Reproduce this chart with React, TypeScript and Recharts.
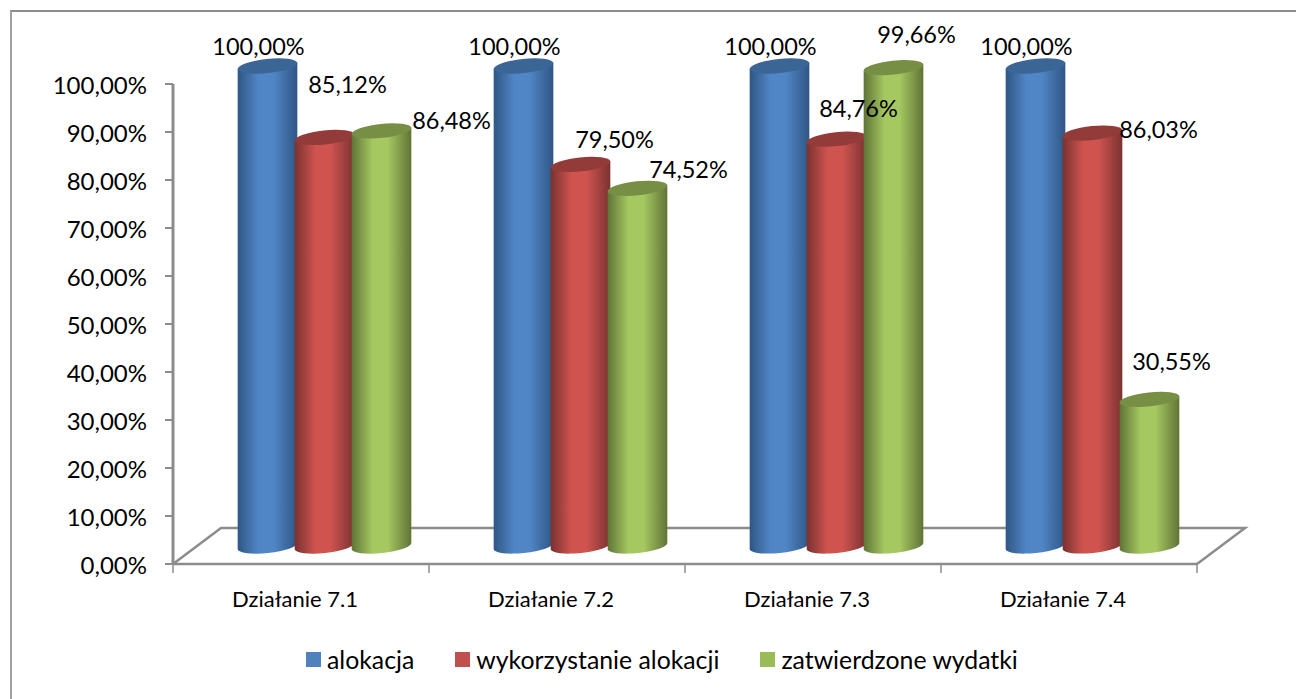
import { BarChart, Bar, XAxis, YAxis, Legend, LabelList, ReferenceLine } from "recharts"

const categories = ["Działanie 7.1", "Działanie 7.2", "Działanie 7.3", "Działanie 7.4"]
const alokacja = [100, 100, 100, 100]
const wykorzystanie = [85.12, 79.5, 84.76, 86.03]
const zatwierdzone = [86.48, 74.52, 99.66, 30.55]
const yTicks = [0, 10, 20, 30, 40, 50, 60, 70, 80, 90, 100]

const tableData = categories.map((name, i) => ({
  name,
  alokacja: alokacja[i],
  wykorzystanie: wykorzystanie[i],
  zatwierdzone: zatwierdzone[i],
}))

const FONT = "Lato, sans-serif"
const AXIS_GRAY = "#8c8c8c"
const DEPTH_X = 48
const DEPTH_Y = 36
const BAR_DX = 23
const BAR_DY = -18

// hand-placed labels in the original, dx/dy from the bar's top centre
const blueLabelShift = [[-9, -17], [-9, -17], [-9, -17], [-9, -17]]
const redLabelShift = [[23, -50], [34, -22], [22, -28], [66, -1]]
const greenLabelShift = [[70, -8], [51, -16], [23, -31], [22, -35]]

const pct = (v: number) => v.toFixed(2).replace(".", ",") + "%"

const Cylinder = (props: any) => {
  const { x, y, width, height, gradient, topFill } = props
  const cx = x + width / 2 + BAR_DX
  const rx = width / 2 + 1.5
  const ry = 7
  const tilt = -6
  const rad = (tilt * Math.PI) / 180
  const ax = rx * Math.cos(rad)
  const ay = rx * Math.sin(rad)
  const top = y + BAR_DY
  const bottom = y + height + BAR_DY
  const body = `M${cx - ax},${top - ay} L${cx - ax},${bottom - ay} A${rx},${ry} ${tilt} 0 0 ${cx + ax},${bottom + ay} L${cx + ax},${top + ay} Z`
  return (
    <g>
      <path d={body} fill={`url(#${gradient})`} />
      <ellipse cx={cx} cy={top} rx={rx} ry={ry} fill={topFill} transform={`rotate(${tilt} ${cx} ${top})`} />
    </g>
  )
}

// the floor plus the tick marks, which sit between the categories here
const Floor = (props: any) => {
  const { x1, y1, x2, y2 } = props
  const step = (x2 - x1) / categories.length
  const marks = [0, 1, 2, 3, 4].map((i) => x1 + step * i)
  return (
    <g fill="none" stroke={AXIS_GRAY}>
      <path
        d={`M${x1},${y1} L${x1 + DEPTH_X},${y1 - DEPTH_Y} L${x2 + DEPTH_X},${y2 - DEPTH_Y} L${x2},${y2}`}
        strokeWidth={2.5}
      />
      {marks.map((m) => (
        <line key={m} x1={m} x2={m} y1={y1} y2={y1 + 9} strokeWidth={1.5} />
      ))}
    </g>
  )
}

const makeLabel = (shifts: number[][], values: number[]) => (props: any) => {
  const { x, y, width, index } = props
  const [dx, dy] = shifts[index]
  return (
    <text
      x={x + width / 2 + BAR_DX + dx}
      y={y + BAR_DY + dy}
      textAnchor="middle"
      dominantBaseline="middle"
      fontFamily={FONT}
      fontSize={23.5}
      fill="#000"
    >
      {pct(values[index])}
    </text>
  )
}

const LegendRow = ({ payload }: any) => (
  <div style={{ display: "flex", alignItems: "center", height: 30, paddingLeft: 306, fontFamily: FONT, fontSize: 24.8, color: "#000" }}>
    {(payload || []).map((item: any) => (
      <div key={item.value} style={{ display: "flex", alignItems: "center", marginRight: 41 }}>
        <span style={{ width: 15, height: 15, background: item.color, marginRight: 6, display: "inline-block" }} />
        <span>{item.value}</span>
      </div>
    ))}
  </div>
)

const gradients = [
  ["gradBlue", "#2f5685", "#5086c6"],
  ["gradRed", "#7a3230", "#cf5450"],
  ["gradGreen", "#5f7437", "#a6c860"],
]

export default function App() {
  return (
    <div style={{ position: "absolute", left: 0, top: 0, width: 1296, height: 699, background: "#fff", overflow: "hidden" }}>
      <div style={{ position: "absolute", left: 10, top: 10, width: 1286, height: 689, borderTop: "2px solid #8c8c8c", borderLeft: "2px solid #a0a0a0", boxSizing: "border-box" }} />
      <div style={{ position: "absolute", left: 0, top: 0 }}>
        <BarChart
          width={1296}
          height={699}
          data={tableData}
          margin={{ top: 84, right: 99, bottom: 0, left: 0 }}
          barCategoryGap={42}
          barGap={0}
        >
          <defs>
            {gradients.map(([id, edge, mid]) => (
              <linearGradient key={id} id={id} x1="0" y1="0" x2="1" y2="0">
                <stop offset="0%" stopColor={edge} />
                <stop offset="35%" stopColor={mid} />
                <stop offset="60%" stopColor={mid} />
                <stop offset="100%" stopColor={edge} />
              </linearGradient>
            ))}
          </defs>
          <XAxis
            dataKey="name"
            height={105}
            stroke={AXIS_GRAY}
            tickLine={false}
            axisLine={{ stroke: AXIS_GRAY, strokeWidth: 2.5 }}
            tick={{ fill: "#000", fontFamily: FONT, fontSize: 22, dy: 19, dx: -6 }}
            interval={0}
          />
          <YAxis
            width={173}
            domain={[0, 100]}
            ticks={yTicks}
            tickFormatter={pct}
            stroke={AXIS_GRAY}
            tickLine={{ stroke: AXIS_GRAY, strokeWidth: 2 }}
            axisLine={{ stroke: AXIS_GRAY, strokeWidth: 3 }}
            tickSize={8}
            tick={{ fill: "#000", fontFamily: FONT, fontSize: 24, dx: -16, dy: 1 }}
          />
          <ReferenceLine y={0} shape={<Floor />} ifOverflow="visible" zIndex={100} />
          <Legend
            verticalAlign="bottom"
            content={<LegendRow />}
            wrapperStyle={{ position: "absolute", left: 0, width: 1296, top: 644 }}
          />
          <Bar
            dataKey="alokacja"
            name="alokacja"
            fill="#4f81bd"
            barSize={57}
            isAnimationActive={false}
            shape={<Cylinder gradient="gradBlue" topFill="#3a6594" />}
          >
            <LabelList content={makeLabel(blueLabelShift, alokacja)} />
          </Bar>
          <Bar
            dataKey="wykorzystanie"
            name="wykorzystanie alokacji"
            fill="#c0504d"
            barSize={57}
            isAnimationActive={false}
            shape={<Cylinder gradient="gradRed" topFill="#933b39" />}
          >
            <LabelList content={makeLabel(redLabelShift, wykorzystanie)} />
          </Bar>
          <Bar
            dataKey="zatwierdzone"
            name="zatwierdzone wydatki"
            fill="#9bbb59"
            barSize={57}
            isAnimationActive={false}
            shape={<Cylinder gradient="gradGreen" topFill="#768f44" />}
          >
            <LabelList content={makeLabel(greenLabelShift, zatwierdzone)} />
          </Bar>
        </BarChart>
      </div>
    </div>
  )
}
